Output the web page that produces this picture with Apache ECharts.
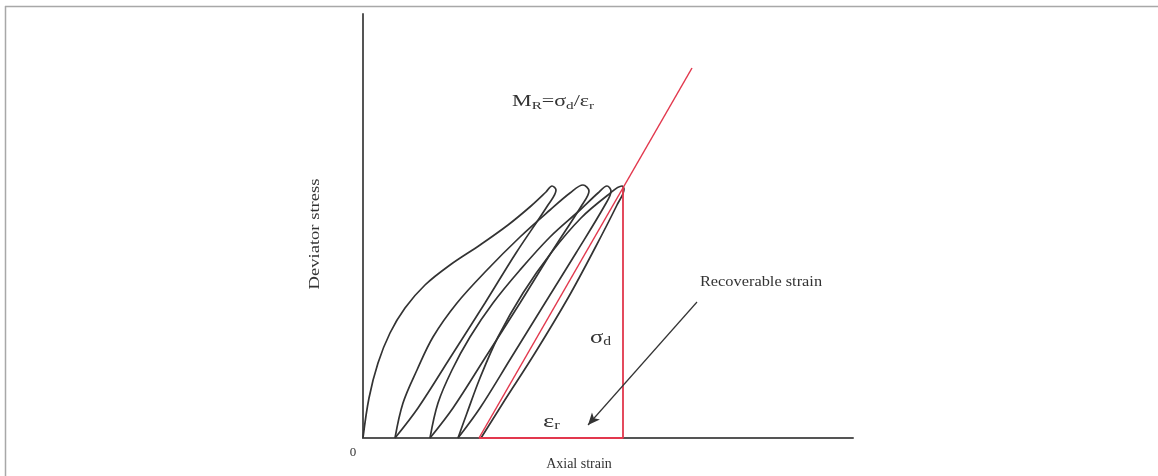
<!DOCTYPE html>
<html>
<head>
<meta charset="utf-8">
<script src="https://cdn.jsdelivr.net/npm/echarts@6/dist/echarts.min.js"></script>
<style>
html,body{margin:0;padding:0;background:#fff;}
#c{width:1158px;height:476px;}
</style>
</head>
<body>
<div id="c"></div>
<script>
// Axis ranges (strain / stress in arbitrary units)
var xRange = [0, 490];
var yRange = [0, 424];

// Hysteresis loops: loading branch followed by unloading branch [strain, stress]
var loop1 = [[0,0],[6,40],[15,75],[27,105],[42,130],[62,153],[87,173],[117,193],[145,213],[168,232],[183,246],[189,252],[193,248],
             [185,233],[153,185],[122,135],[87,80],[55,30],[32,0]];
var loop2 = [[32,0],[40,35],[54,68],[70,101],[94,135],[124,168],[157,201],[187,228],[207,245],[220,253],[226,247],
             [219,233],[188,185],[157,135],[122,80],[90,30],[67,0]];
var loop3 = [[67,0],[75,35],[89,68],[107,101],[130,135],[157,168],[187,201],[217,228],[235,245],[244,252],[248,247],
             [242,233],[213,185],[182,135],[148,80],[117,30],[95,0]];
var loop4 = [[95,0],[104,25],[117,60],[135,101],[160,145],[188,185],[218,220],[245,243],[259,252],[261,249],
             [254,233],[232,190],[205,140],[172,85],[140,35],[118,0]];

// Resilient modulus construction: secant line and triangle
var modulusLine = [[329,370],[116,0]];
var triangle = [[116,0],[260,0],[260,251]];

// Annotation arrow (from label to strain)
var arrowFrom = [334,136];
var arrowTo = [225,13];

var chart = echarts.init(document.getElementById('c'), null, {renderer:'canvas'});
var black = '#333333';
var red = '#e2384d';
var serif = '"Liberation Serif", "DejaVu Serif", serif';

function loopSeries(d){
  return {type:'line', data:d, smooth:0.35, showSymbol:false, symbol:'none',
          lineStyle:{color:black, width:1.7}, z:3, silent:true};
}

chart.setOption({
  animation:false,
  backgroundColor:'#fff',
  grid:{left:363, top:14, width:490, height:424, containLabel:false},
  xAxis:{type:'value', min:xRange[0], max:xRange[1],
         axisLine:{show:true, onZero:false, lineStyle:{color:'#555', width:2}},
         axisTick:{show:false}, axisLabel:{show:false}, splitLine:{show:false}},
  yAxis:{type:'value', min:yRange[0], max:yRange[1],
         axisLine:{show:true, onZero:false, lineStyle:{color:'#555', width:2}},
         axisTick:{show:false}, axisLabel:{show:false}, splitLine:{show:false}},
  series:[
    loopSeries(loop1), loopSeries(loop2), loopSeries(loop3), loopSeries(loop4),
    {type:'line', data:modulusLine, showSymbol:false, symbol:'none', lineStyle:{color:red, width:1.5}, z:4},
    {type:'line', data:triangle, showSymbol:false, symbol:'none', lineStyle:{color:red, width:1.8}, z:4},
    {type:'line', data:[], z:5,
     markLine:{silent:true, symbol:['none','arrow'], symbolSize:[8,12],
               lineStyle:{color:'#333', width:1.2, type:'solid'}, label:{show:false},
               data:[[{coord:arrowFrom},{coord:arrowTo}]]}}
  ],
  graphic:[
    {type:'line', shape:{x1:5, y1:6.5, x2:1158, y2:6.5}, style:{stroke:'#a8a8a8', lineWidth:1.5}},
    {type:'line', shape:{x1:5.5, y1:6, x2:5.5, y2:476}, style:{stroke:'#a8a8a8', lineWidth:1.5}},
    {type:'text', x:315, y:234, rotation:Math.PI/2, scaleX:1.24,
     style:{text:'Deviator stress', font:'15px '+serif, fill:'#333', align:'center', verticalAlign:'middle'}},
    {type:'text', x:353, y:453,
     style:{text:'0', font:'13px '+serif, fill:'#333', align:'center', verticalAlign:'middle'}},
    {type:'text', x:579, y:464,
     style:{text:'Axial strain', font:'14px '+serif, fill:'#333', align:'center', verticalAlign:'middle'}},
    {type:'text', x:761, y:282, scaleX:1.09,
     style:{text:'Recoverable strain', font:'15px '+serif, fill:'#333', align:'center', verticalAlign:'middle'}},
    {type:'text', x:512, y:102, scaleX:1.38,
     style:{text:'{m|M}{s|R}{m|=σ}{s|d}{m|/ε}{s|r}', fill:'#333', align:'left', verticalAlign:'middle',
            rich:{m:{font:'16px '+serif, fill:'#333', lineHeight:19},
                  s:{font:'11px '+serif, fill:'#333', lineHeight:11, verticalAlign:'bottom'}}}},
    {type:'text', x:590, y:338, scaleX:1.3,
     style:{text:'{m|σ}{s|d}', fill:'#333', align:'left', verticalAlign:'middle',
            rich:{m:{font:'19px '+serif, fill:'#333', lineHeight:20},
                  s:{font:'12px '+serif, fill:'#333', lineHeight:12, verticalAlign:'bottom'}}}},
    {type:'text', x:543, y:422, scaleX:1.4,
     style:{text:'{m|ε}{s|r}', fill:'#333', align:'left', verticalAlign:'middle',
            rich:{m:{font:'19px '+serif, fill:'#333', lineHeight:20},
                  s:{font:'12px '+serif, fill:'#333', lineHeight:12, verticalAlign:'bottom'}}}}
  ]
});
</script>
</body>
</html>
